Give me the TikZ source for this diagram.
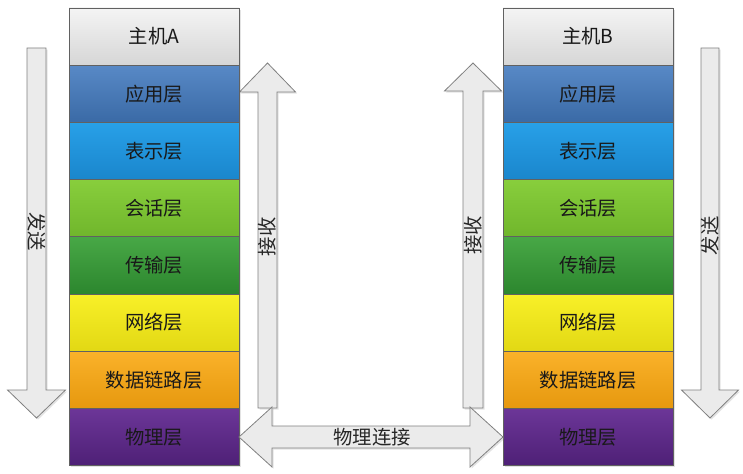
\documentclass[tikz,border=0pt]{standalone}
\usepackage{fontspec}
\newfontfamily\cjk{Noto Sans CJK SC}
\usetikzlibrary{positioning,shadows,calc}
\definecolor{hostT}{RGB}{244,244,244}
\definecolor{hostB}{RGB}{214,214,214}
\definecolor{appT}{RGB}{88,137,198}
\definecolor{appB}{RGB}{58,106,166}
\definecolor{preT}{RGB}{40,160,232}
\definecolor{preB}{RGB}{26,134,204}
\definecolor{sesT}{RGB}{136,206,60}
\definecolor{sesB}{RGB}{112,182,44}
\definecolor{traT}{RGB}{72,168,70}
\definecolor{traB}{RGB}{44,134,46}
\definecolor{netT}{RGB}{248,240,40}
\definecolor{netB}{RGB}{226,216,20}
\definecolor{dllT}{RGB}{250,178,42}
\definecolor{dllB}{RGB}{230,152,14}
\definecolor{phyT}{RGB}{108,54,152}
\definecolor{phyB}{RGB}{78,32,118}
\tikzset{
  layer/.style={rectangle, draw=black!62, line width=0.6pt, minimum width=127.5pt,
                minimum height=42.9pt, inner sep=0pt, outer sep=0pt,
                font=\cjk\fontsize{14.5}{16}\selectfont, text=black!90},
  lay/.style 2 args={layer, top color=#1, bottom color=#2},
  shd/.style={drop shadow={shadow xshift=1.2pt, shadow yshift=-1.2pt, opacity=0.22}},
  blkarr/.style={draw=black!50, line width=0.6pt, fill=black!8, line join=miter, shd},
  alabel/.style={font=\cjk\fontsize{14.5}{16}\selectfont, inner sep=0pt, text=black!85},
}

\begin{document}
\begin{tikzpicture}[x=0.75pt,y=-0.75pt]
\useasboundingbox (0,0) rectangle (743,474);

% ===================== block arrows =====================
% send (left, down)
\draw[blkarr] (27,48) -- (46,48) -- (46,390) -- (65.5,390) -- (36.5,418)
  -- (7.5,390) -- (27,390) -- cycle;
% receive (host A, up)
\draw[blkarr] (258,408) -- (277,408) -- (277,92) -- (295.5,92) -- (267.5,63)
  -- (239.5,92) -- (258,92) -- cycle;
% receive (host B, up)
\draw[blkarr] (463,408) -- (483,408) -- (483,91) -- (501.5,91) -- (473,63)
  -- (444.5,91) -- (463,91) -- cycle;
% send (right, down)
\draw[blkarr] (701,48) -- (719,48) -- (719,390) -- (738.5,390) -- (710,418)
  -- (681.5,390) -- (701,390) -- cycle;

% ===================== host A =====================
\node[lay={hostT}{hostB}, shd] (HA) at (154,36.6) {主机A};
\node[lay={appT}{appB}, shd, below=0pt of HA] (A1) {应用层};
\node[lay={preT}{preB}, shd, below=0pt of A1] (A2) {表示层};
\node[lay={sesT}{sesB}, shd, below=0pt of A2] (A3) {会话层};
\node[lay={traT}{traB}, shd, below=0pt of A3] (A4) {传输层};
\node[lay={netT}{netB}, shd, below=0pt of A4] (A5) {网络层};
\node[lay={dllT}{dllB}, shd, below=0pt of A5] (A6) {数据链路层};
\node[lay={phyT}{phyB}, shd, below=0pt of A6] (A7) {物理层};

% ===================== host B =====================
\node[lay={hostT}{hostB}, shd] (HB) at (588,36.6) {主机B};
\node[lay={appT}{appB}, shd, below=0pt of HB] (B1) {应用层};
\node[lay={preT}{preB}, shd, below=0pt of B1] (B2) {表示层};
\node[lay={sesT}{sesB}, shd, below=0pt of B2] (B3) {会话层};
\node[lay={traT}{traB}, shd, below=0pt of B3] (B4) {传输层};
\node[lay={netT}{netB}, shd, below=0pt of B4] (B5) {网络层};
\node[lay={dllT}{dllB}, shd, below=0pt of B5] (B6) {数据链路层};
\node[lay={phyT}{phyB}, shd, below=0pt of B6] (B7) {物理层};

% physical link between the two stacks
\draw[blkarr] (A7.east) -- ++(33,-30) -- ++(0,19) -- ($(B7.west)+(-33,-11)$)
  -- ++(0,-19) -- (B7.west) -- ++(-33,30) -- ++(0,-19)
  -- ($(A7.east)+(33,11)$) -- ++(0,19) -- cycle;

% ===================== labels =====================
\node[alabel, rotate=-90] (SA) at (36.5,232) {发送};
\node[alabel, rotate=90]  (RA) at (267.5,237) {接收};
\node[alabel, rotate=90]  (RB) at (473,235) {接收};
\node[alabel, rotate=90]  (SB) at (710,236) {发送};
\node[alabel] (PL) at (372,437) {物理连接};

\end{tikzpicture}
\end{document}
